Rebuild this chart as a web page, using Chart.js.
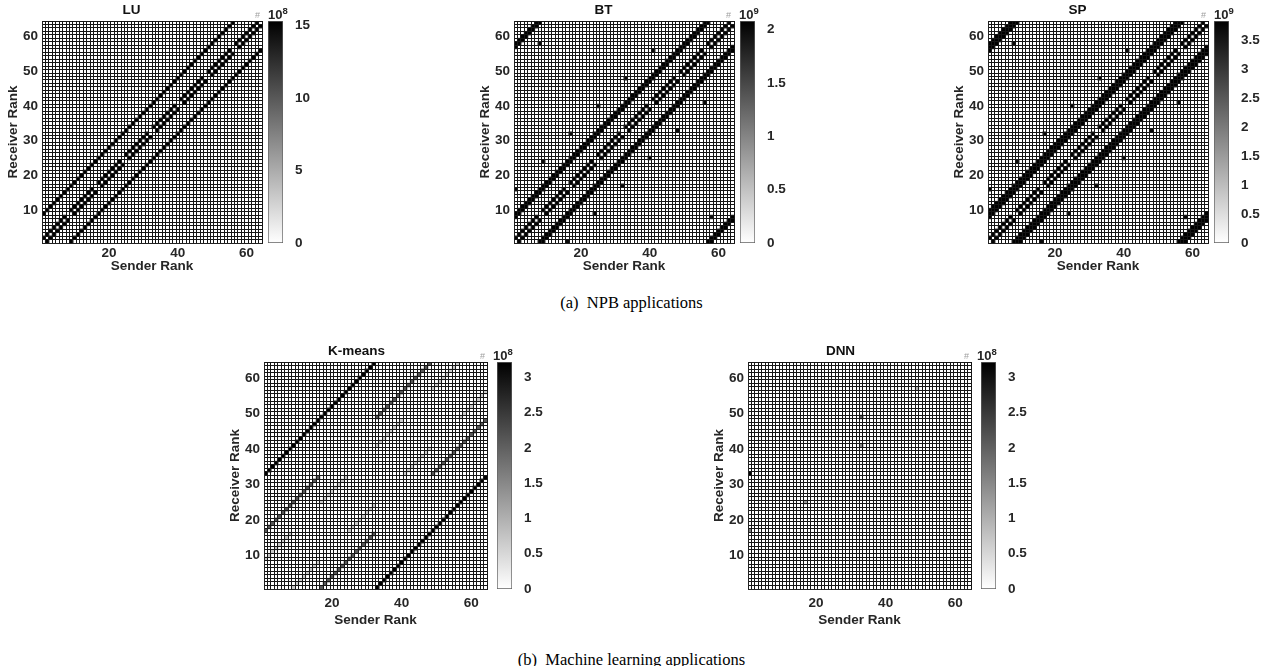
<!DOCTYPE html>
<html><head><meta charset="utf-8">
<script src="https://cdn.jsdelivr.net/npm/chart.js@4.4.1/dist/chart.umd.min.js"></script>
<style>
html,body{margin:0;padding:0;background:#fff}
body{width:1263px;height:666px;position:relative;overflow:hidden;font-family:"Liberation Sans",Arial,sans-serif}
canvas{position:absolute}
.cap{position:absolute;left:0;width:1263px;text-align:center;font-family:"Liberation Serif","Times New Roman",serif;font-size:16.5px;line-height:18px;color:#000}
.exp{position:absolute;font-weight:bold;font-size:13px;line-height:14px;color:#262626;white-space:nowrap}
.exp sup{font-size:9.5px;vertical-align:5px;line-height:0}
.hash{position:absolute;color:#a0a0a0;font-size:9px;line-height:10px}
</style></head><body>
<script>
// ---------------- data ----------------
const N = 64;
const senderTicks = [20, 40, 60];
const receiverTicks = [10, 20, 30, 40, 50, 60];

// colour-bar tops (in units shown by the exponent label)
const luMax = 15.3, btMax = 2.08, spMax = 3.83, kmMax = 3.22, dnnMax = 3.22;
const luBarTicks = 5, btBarTicks = 0.5, spBarTicks = 0.5, kmBarTicks = 0.5, dnnBarTicks = 0.5;

// diagonal runs: [receiver - sender, first sender, last sender, value]
const luBands = [
  [8, 1, 56, 15.3], [-8, 9, 64, 15.3],
  [1, 1, 7, 15.2], [-1, 2, 8, 15.2], [1, 9, 15, 15.2], [-1, 10, 16, 15.2],
  [1, 17, 23, 15.2], [-1, 18, 24, 15.2], [1, 25, 31, 15.2], [-1, 26, 32, 15.2],
  [1, 33, 39, 15.2], [-1, 34, 40, 15.2], [1, 41, 47, 15.2], [-1, 42, 48, 15.2],
  [1, 49, 55, 15.2], [-1, 50, 56, 15.2], [1, 57, 63, 15.2], [-1, 58, 64, 15.2]
];
const btBands = [
  [7, 1, 57, 2.08], [8, 1, 56, 2.08], [-7, 8, 64, 2.08], [-8, 9, 64, 2.08],
  [-57, 58, 64, 2.08], [-56, 57, 64, 2.08], [57, 1, 7, 2.08], [56, 1, 8, 2.08],
  [1, 1, 7, 2.05], [-1, 2, 8, 2.05], [1, 9, 15, 2.05], [-1, 10, 16, 2.05],
  [1, 17, 23, 2.05], [-1, 18, 24, 2.05], [1, 25, 31, 2.05], [-1, 26, 32, 2.05],
  [1, 33, 39, 2.05], [-1, 34, 40, 2.05], [1, 41, 47, 2.05], [-1, 42, 48, 2.05],
  [1, 49, 55, 2.05], [-1, 50, 56, 2.05], [1, 57, 63, 2.05], [-1, 58, 64, 2.05]
];
const btDots = [
  [1, 16, 2.0], [9, 24, 2.0], [17, 32, 2.0], [25, 40, 2.0], [33, 48, 2.0], [41, 56, 2.0], [8, 58, 2.0],
  [16, 1, 2.0], [24, 9, 2.0], [32, 17, 2.0], [40, 25, 2.0], [48, 33, 2.0], [56, 41, 2.0], [58, 8, 2.0]
];
const spBands = [
  [7, 1, 57, 3.83], [8, 1, 56, 3.83], [9, 1, 55, 3.83],
  [-7, 8, 64, 3.83], [-8, 9, 64, 3.83], [-9, 10, 64, 3.83],
  [-57, 58, 64, 3.83], [-56, 57, 64, 3.83], [-55, 56, 64, 3.83],
  [57, 1, 7, 3.83], [56, 1, 8, 3.83], [55, 1, 9, 3.83],
  [1, 1, 7, 3.8], [-1, 2, 8, 3.8], [1, 9, 15, 3.8], [-1, 10, 16, 3.8],
  [1, 17, 23, 3.8], [-1, 18, 24, 3.8], [1, 25, 31, 3.8], [-1, 26, 32, 3.8],
  [1, 33, 39, 3.8], [-1, 34, 40, 3.8], [1, 41, 47, 3.8], [-1, 42, 48, 3.8],
  [1, 49, 55, 3.8], [-1, 50, 56, 3.8], [1, 57, 63, 3.8], [-1, 58, 64, 3.8]
];
const spDots = [
  [1, 16, 3.7], [9, 24, 3.7], [17, 32, 3.7], [25, 40, 3.7], [33, 48, 3.7], [41, 56, 3.7], [8, 58, 3.7],
  [16, 1, 3.7], [24, 9, 3.7], [32, 17, 3.7], [40, 25, 3.7], [48, 33, 3.7], [56, 41, 3.7], [58, 8, 3.7]
];
const kmBands = [
  [32, 1, 32, 3.22], [-32, 33, 64, 3.22],
  [16, 1, 16, 2.1], [-16, 17, 32, 2.1], [16, 33, 48, 2.1], [-16, 49, 64, 2.1],
  [8, 1, 8, 0.65], [-8, 9, 16, 0.65], [8, 17, 24, 0.65], [-8, 25, 32, 0.65],
  [8, 33, 40, 0.65], [-8, 41, 48, 0.65], [8, 49, 56, 0.65], [-8, 57, 64, 0.65]
];
const dnnDots = [
  [1, 33, 3.2], [33, 49, 2.0], [1, 17, 1.6], [33, 41, 1.4], [17, 25, 1.2], [49, 57, 0.9]
];

// ---------------- drawing ----------------
const FONT = '"Liberation Sans", Arial, Helvetica, sans-serif';
const TXT = '#262626';
const boldFont = {family: FONT, size: 13.5, weight: 'bold', lineHeight: 1.2};

function expand(bands, dots) {
  const cells = [];
  bands.forEach(([d, a, b, v]) => { for (let s = a; s <= b; s++) cells.push({x: s, y: s + d, v}); });
  dots.forEach(([s, r, v]) => cells.push({x: s, y: r, v}));
  return cells;
}

function cellTicks(labels) {
  return (scale) => {
    const t = [];
    for (let i = 0; i <= N; i++) t.push({value: i + 0.5});
    labels.forEach(v => t.push({value: v}));
    t.sort((a, b) => a.value - b.value);
    scale.ticks = t;
  };
}
const gridColor = (c) => (c.tick && Number.isInteger(c.tick.value)) ? 'rgba(0,0,0,0)' : '#151515';

function addCanvas(left, top, w, h) {
  const c = document.createElement('canvas');
  c.width = w; c.height = h;
  c.style.left = left + 'px'; c.style.top = top + 'px';
  c.style.width = w + 'px'; c.style.height = h + 'px';
  document.body.appendChild(c);
  return c;
}

function heatmap(p) {
  const cv = addCanvas(p.left, p.top, p.w, p.h);
  const cellR = (c) => { const a = c.chart.chartArea; return a ? ((a.right - a.left) / N + 1.0) / Math.SQRT2 : 3; };
  new Chart(cv, {
    type: 'scatter',
    data: {datasets: [{
      data: expand(p.bands, p.dots),
      pointStyle: 'rect',
      pointRadius: cellR, pointHoverRadius: cellR,
      borderWidth: 0,
      backgroundColor: (c) => {
        const v = c.raw ? c.raw.v : 0;
        const g = Math.round(255 * (1 - Math.min(v / p.cmax, 1)));
        return `rgb(${g},${g},${g})`;
      }
    }]},
    options: {
      responsive: false, animation: false, events: [],
      layout: {padding: {left: 0, right: 2, top: 0, bottom: 0}},
      plugins: {
        legend: {display: false}, tooltip: {enabled: false},
        title: {display: true, text: p.title, color: '#111', font: boldFont, padding: {top: 1.9, bottom: 2.9}}
      },
      scales: {
        x: {
          type: 'linear', min: 0.5, max: N + 0.5,
          afterBuildTicks: cellTicks(senderTicks),
          afterFit: (s) => { s.height = p.axisH; },
          grid: {color: gridColor, lineWidth: 1, drawTicks: false, z: 1},
          border: {color: '#222', width: 1, z: 2},
          ticks: {autoSkip: false, maxRotation: 0, padding: p.tickPad, color: TXT, font: boldFont,
                  callback: (v) => senderTicks.includes(v) ? String(v) : ''},
          title: {display: true, text: 'Sender Rank', color: TXT, font: boldFont, padding: {top: 0, bottom: p.titlePad}}
        },
        y: {
          type: 'linear', min: 0.5, max: N + 0.5,
          afterBuildTicks: cellTicks(receiverTicks),
          afterFit: (s) => { s.width = 42; },
          grid: {color: gridColor, lineWidth: 1, drawTicks: false, z: 1},
          border: {color: '#222', width: 1, z: 2},
          ticks: {autoSkip: false, padding: 4, color: TXT, font: boldFont,
                  callback: (v) => receiverTicks.includes(v) ? String(v) : ''},
          title: {display: true, text: 'Receiver Rank', color: TXT, font: boldFont, padding: {top: 4.9, bottom: 0}}
        }
      }
    }
  });
}

function colorbar(p) {
  const W = 50;
  const cv = addCanvas(p.cb, p.top, W, p.h);
  new Chart(cv, {
    type: 'bar',
    data: {labels: [''], datasets: [{
      data: [[0, p.cmax]],
      backgroundColor: (c) => {
        const a = c.chart.chartArea;
        if (!a) return '#888';
        const g = c.chart.ctx.createLinearGradient(0, a.bottom, 0, a.top);
        g.addColorStop(0, '#ffffff'); g.addColorStop(1, '#000000');
        return g;
      },
      borderColor: '#606060', borderWidth: 1, borderSkipped: false,
      barPercentage: 1, categoryPercentage: 1
    }]},
    options: {
      responsive: false, animation: false, events: [],
      layout: {padding: {left: 0, right: 0, top: 21, bottom: p.axisH}},
      plugins: {legend: {display: false}, tooltip: {enabled: false}},
      scales: {
        x: {display: false},
        y: {
          position: 'right', min: 0, max: p.cmax,
          afterFit: (s) => { s.width = W - 15; },
          grid: {display: false}, border: {display: false},
          ticks: {stepSize: p.step, includeBounds: false, padding: 4, color: TXT,
                  font: {family: FONT, size: 13.5, weight: 'bold'},
                  callback: (v) => String(+v.toFixed(2))}
        }
      }
    }
  });
  const e = document.createElement('div');
  e.className = 'exp';
  e.style.left = (p.cb + p.expDx) + 'px';
  e.style.top = (p.top + 8) + 'px';
  e.innerHTML = '10<sup>' + p.exp + '</sup>';
  document.body.appendChild(e);
  const h = document.createElement('div');
  h.className = 'hash';
  h.style.left = (p.cb - 13 + p.expDx) + 'px';
  h.style.top = (p.top + 10) + 'px';
  h.textContent = '#';
  document.body.appendChild(h);
}

const panels = [
  {title: 'LU', bands: luBands, dots: [], cmax: luMax, step: luBarTicks, exp: '8',
   left: 0, top: 0, w: 265, h: 275, axisH: 32, tickPad: 2.5, titlePad: 0.2, cb: 268, expDx: 0},
  {title: 'BT', bands: btBands, dots: btDots, cmax: btMax, step: btBarTicks, exp: '9',
   left: 472, top: 0, w: 265, h: 275, axisH: 32, tickPad: 2.5, titlePad: 0.2, cb: 740, expDx: -1},
  {title: 'SP', bands: spBands, dots: spDots, cmax: spMax, step: spBarTicks, exp: '9',
   left: 946, top: 0, w: 265, h: 275, axisH: 32, tickPad: 2.5, titlePad: 0.2, cb: 1214, expDx: 0},
  {title: 'K-means', bands: kmBands, dots: [], cmax: kmMax, step: kmBarTicks, exp: '8',
   left: 222, top: 341, w: 271, h: 288, axisH: 40, tickPad: 6, titlePad: 0.9, cb: 497, expDx: -4},
  {title: 'DNN', bands: [], dots: dnnDots, cmax: dnnMax, step: dnnBarTicks, exp: '8',
   left: 706, top: 341, w: 271, h: 288, axisH: 40, tickPad: 6, titlePad: 0.9, cb: 981, expDx: -4}
];
panels.forEach(p => { heatmap(p); colorbar(p); });

[['(a)\u00a0\u00a0NPB applications', 294], ['(b)\u00a0\u00a0Machine learning applications', 651]].forEach(([t, y]) => {
  const d = document.createElement('div');
  d.className = 'cap'; d.style.top = y + 'px'; d.textContent = t;
  document.body.appendChild(d);
});
</script>
</body></html>
